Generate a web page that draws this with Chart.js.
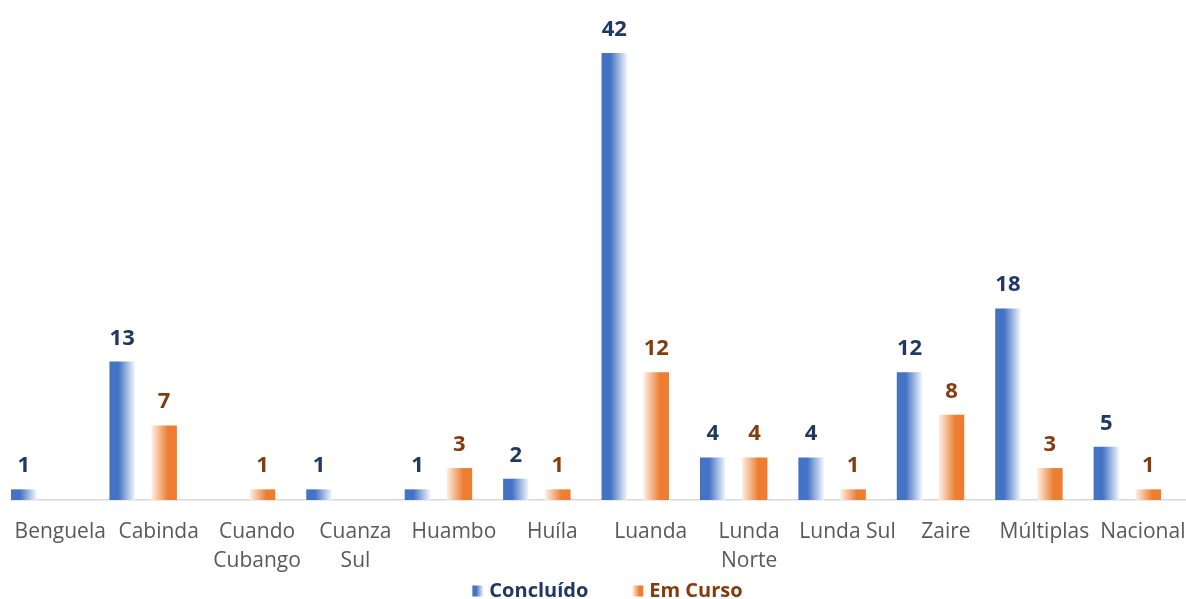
<!DOCTYPE html>
<html>
<head>
<meta charset="utf-8">
<script src="https://cdn.jsdelivr.net/npm/chart.js@4.4.1/dist/chart.umd.min.js"></script>
<style>
html,body{margin:0;padding:0;overflow:hidden;background:#fff;width:1186px;height:599px}
#wrap{position:absolute;left:0;top:0;width:1200px;height:599px}
</style>
</head>
<body>
<div id="wrap"><canvas id="c" width="1200" height="599"></canvas></div>
<script>
const categories = ['Benguela','Cabinda','Cuando Cubango','Cuanza Sul','Huambo','Huíla','Luanda','Lunda Norte','Lunda Sul','Zaire','Múltiplas','Nacional'];
const tickLabels = [['Benguela'],['Cabinda'],['Cuando','Cubango'],['Cuanza','Sul'],['Huambo'],['Huíla'],['Luanda'],['Lunda','Norte'],['Lunda Sul'],['Zaire'],['Múltiplas'],['Nacional']];
const concluido = [1,13,null,1,1,2,42,4,4,12,18,5];
const emCurso = [null,7,1,null,3,1,12,4,1,8,3,1];
const seriesNames = ['Concluído','Em Curso'];

const BLUE = '#4472C4', ORANGE = '#ED7D31';
const BLUE_TXT = '#203864', ORANGE_TXT = '#843C0C';
const gradStops = [
  [[0, BLUE],[0.35, BLUE],[1, '#f3f6fc']],
  [[0, '#fdf0e6'],[0.65, ORANGE],[1, ORANGE]]
];
const labelColors = [BLUE_TXT, ORANGE_TXT];
const solid = [BLUE, ORANGE];

const gradientPlugin = {
  id: 'barGradient',
  beforeDatasetsDraw(chart){
    const ctx = chart.ctx;
    chart.data.datasets.forEach((ds, di) => {
      const meta = chart.getDatasetMeta(di);
      meta.data.forEach(el => {
        const {x, width} = el.getProps(['x','width'], true);
        if (!isFinite(x) || !isFinite(width)) return;
        const g = ctx.createLinearGradient(x - width/2, 0, x + width/2, 0);
        gradStops[di].forEach(s => g.addColorStop(s[0], s[1]));
        el.options.backgroundColor = g;
      });
    });
  }
};

const valueLabelPlugin = {
  id: 'valueLabels',
  afterDatasetsDraw(chart){
    const ctx = chart.ctx;
    ctx.save();
    ctx.font = 'bold 22px "Open Sans"';
    ctx.textAlign = 'center';
    ctx.textBaseline = 'alphabetic';
    chart.data.datasets.forEach((ds, di) => {
      const meta = chart.getDatasetMeta(di);
      meta.data.forEach((el, i) => {
        const v = ds.data[i].y;
        if (v === null || v === undefined) return;
        const {x, y} = el.getProps(['x','y'], true);
        ctx.fillStyle = labelColors[di];
        ctx.fillText(String(v), x, y - 17);
      });
    });
    ctx.restore();
  }
};

// Legend drawn at the bottom, centred under the plot
const legendPlugin = {
  id: 'bottomLegend',
  afterDraw(chart){
    const ctx = chart.ctx;
    const box = 11, gapText = 6, gapItem = 44, cy = 591;
    ctx.save();
    ctx.font = 'bold 20px "Open Sans"';
    ctx.textBaseline = 'middle';
    ctx.textAlign = 'left';
    const items = chart.data.datasets.map((ds, di) => ({text: ds.label, di, w: ctx.measureText(ds.label).width}));
    const total = items.reduce((s, it) => s + box + gapText + it.w, 0) + gapItem * (items.length - 1);
    let x = (chart.chartArea.left + chart.chartArea.right) / 2 + 6 - total / 2;
    items.forEach(it => {
      const g = ctx.createLinearGradient(x, 0, x + box, 0);
      gradStops[it.di].forEach(s => g.addColorStop(s[0], s[1]));
      ctx.fillStyle = g;
      ctx.fillRect(x, cy - box/2, box, box);
      ctx.fillStyle = labelColors[it.di];
      ctx.fillText(it.text, x + box + gapText, cy);
      x += box + gapText + it.w + gapItem;
    });
    ctx.restore();
  }
};

const toPoints = arr => arr.map((v, i) => ({x: i, y: v}));

new Chart(document.getElementById('c'), {
  type: 'bar',
  data: {
    datasets: [concluido, emCurso].map((arr, di) => ({
      label: seriesNames[di],
      data: toPoints(arr),
      xAxisID: 'x',
      yAxisID: 'y',
      backgroundColor: () => solid[di],
      borderWidth: 0,
      categoryPercentage: 0.853,
      barPercentage: 0.607
    }))
  },
  options: {
    responsive: false,
    devicePixelRatio: 1,
    animation: false,
    events: [],
    layout: { padding: { left: 11, right: 8, top: 21, bottom: 0 } },
    scales: {
      x: {
        type: 'linear',
        display: false,
        offset: false,
        min: -0.343,
        max: 11.657,
        ticks: { stepSize: 1 },
        grid: { display: false }
      },
      xl: {
        type: 'category',
        position: 'bottom',
        labels: tickLabels,
        offset: true,
        grid: { display: true, drawOnChartArea: false, drawTicks: false },
        border: { display: true, color: '#d9d9d9', width: 1.5 },
        ticks: {
          autoSkip: false, maxRotation: 0, minRotation: 0,
          padding: 18,
          color: '#595959',
          font: { family: '"Open Sans"', size: 21, lineHeight: 1.381 }
        },
        afterFit: s => { s.height = 99; s.paddingLeft = 0; s.paddingRight = 0; }
      },
      y: {
        display: false,
        min: 0,
        max: 45
      }
    },
    plugins: {
      tooltip: { enabled: false },
      legend: { display: false }
    }
  },
  plugins: [gradientPlugin, valueLabelPlugin, legendPlugin]
});
</script>
</body>
</html>
